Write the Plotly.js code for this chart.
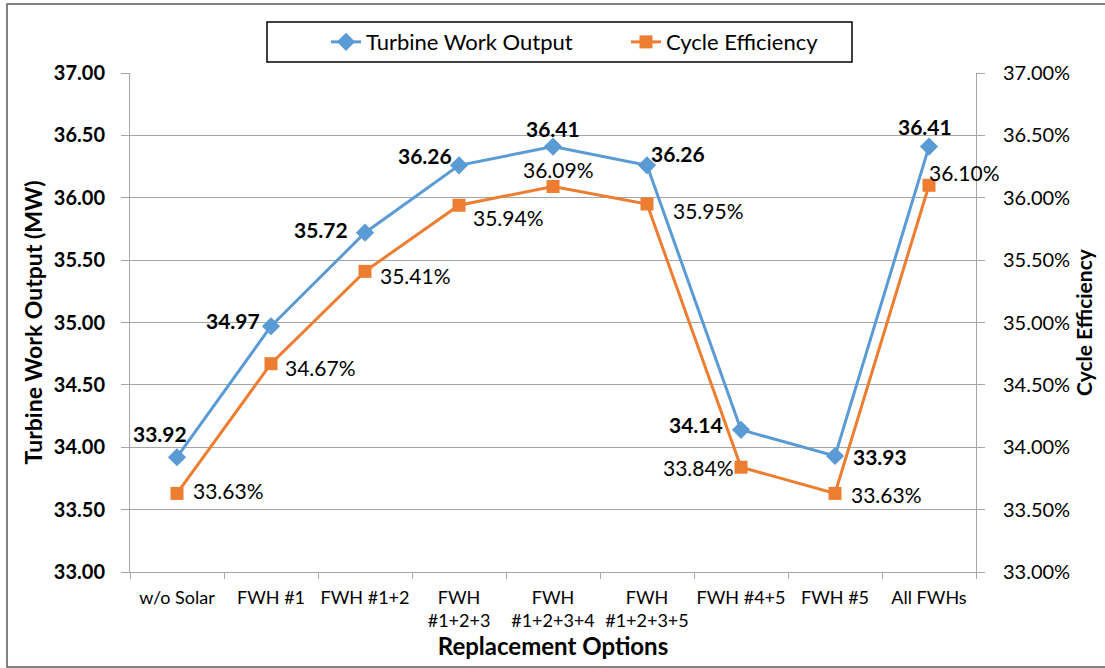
<!DOCTYPE html>
<html>
<head>
<meta charset="utf-8">
<script src="https://cdn.plot.ly/plotly-3.0.1.min.js"></script>
<style>
  html, body { margin: 0; padding: 0; background: #fff; }
  #chart { width: 1105px; height: 668px; }
</style>
</head>
<body>
<div id="chart"></div>
<script>
let options = ['w/o Solar', 'FWH #1', 'FWH #1+2', 'FWH<br>#1+2+3', 'FWH<br>#1+2+3+4',
  'FWH<br>#1+2+3+5', 'FWH #4+5', 'FWH #5', 'All FWHs'];
let workOutput = [33.92, 34.97, 35.72, 36.26, 36.41, 36.26, 34.14, 33.93, 36.41];
let efficiency = [33.63, 34.67, 35.41, 35.94, 36.09, 35.95, 33.84, 33.63, 36.10];

// label offsets in px (right, down) from each marker
let workDx = [-17, -38, -44, -34, 0, 31, -45, 45, -4];
let workDy = [-24, -6, -3, -10, -18, -12, -5, 1, -20];
let effDx = [51, 49, 50, 49, 5, 61, -43, 51, 35];
let effDy = [-3, 4, 4, 12, -17, 7, 0, 1, -13];

let blue = '#5B9BD5';
let orange = '#ED7D31';
let font = 'Lato, "Open Sans", sans-serif';

let work = {
  x: options,
  y: workOutput,
  name: 'Turbine Work Output',
  type: 'scatter',
  mode: 'lines+markers',
  line: { color: blue, width: 3 },
  marker: { symbol: 'diamond', size: 14, color: blue }
};

let eff = {
  x: options,
  y: efficiency.map(v => v / 100),
  name: 'Cycle Efficiency',
  type: 'scatter',
  mode: 'lines+markers',
  yaxis: 'y2',
  line: { color: orange, width: 3 },
  marker: { symbol: 'square', size: 13, color: orange }
};

let labels = [];
options.forEach((c, i) => {
  labels.push({
    x: c, y: workOutput[i], xref: 'x', yref: 'y',
    text: workOutput[i].toFixed(2), showarrow: false,
    xshift: workDx[i], yshift: -workDy[i],
    font: { family: font, size: 21, weight: 'bold', color: '#000' }
  });
  labels.push({
    x: c, y: efficiency[i] / 100, xref: 'x', yref: 'y2',
    text: efficiency[i].toFixed(2) + '%', showarrow: false,
    xshift: effDx[i], yshift: -effDy[i],
    font: { family: font, size: 21, color: '#000' }
  });
});

let grid = '#a6a6a6';

let layout = {
  width: 1105,
  height: 668,
  margin: { l: 130, r: 129, t: 73, b: 96 },
  paper_bgcolor: '#fff',
  plot_bgcolor: '#fff',
  font: { family: font, color: '#000' },
  showlegend: true,
  legend: {
    orientation: 'h',
    x: (326 - 130) / 846, xanchor: 'left',
    y: 1.062, yanchor: 'middle',
    borderwidth: 0,
    bgcolor: 'rgba(0,0,0,0)',
    font: { family: font, size: 22 },
    entrywidth: 255
  },
  xaxis: {
    type: 'category',
    range: [-0.5, 8.5],
    showline: true, linecolor: grid, linewidth: 1,
    ticks: 'outside', tickson: 'boundaries', ticklen: 6, tickcolor: grid,
    ticklabelstandoff: 9, tickangle: 0,
    tickfont: { family: font, size: 18 },
    showgrid: false,
    title: { text: 'Replacement Options', font: { family: font, size: 24, weight: 'bold' }, standoff: 4 }
  },
  yaxis: {
    range: [33, 37], dtick: 0.5, tickformat: '.2f',
    showline: true, linecolor: grid, linewidth: 1,
    ticks: 'outside', ticklen: 8, tickcolor: grid, ticklabelstandoff: 12,
    gridcolor: grid, gridwidth: 1, zeroline: false,
    tickfont: { family: font, size: 20, weight: 'bold' },
    title: { text: 'Turbine Work Output (MW)', font: { family: font, size: 23, weight: 'bold' }, standoff: 4 }
  },
  yaxis2: {
    overlaying: 'y', side: 'right',
    range: [0.33, 0.37], dtick: 0.005, tickformat: '.2%',
    showline: true, linecolor: grid, linewidth: 1,
    ticks: 'outside', ticklen: 8, tickcolor: grid, ticklabelstandoff: 14,
    showgrid: false, zeroline: false,
    tickfont: { family: font, size: 20 },
    title: { text: 'Cycle Efficiency', font: { family: font, size: 21, weight: 'bold' }, standoff: 8 }
  },
  annotations: labels,
  shapes: [{
    type: 'rect', xref: 'paper', yref: 'paper',
    x0: (7 - 130) / 846, x1: (1112 - 130) / 846,
    y0: (572 - 667) / 499, y1: (572 - 4) / 499,
    line: { color: '#595959', width: 1.5 }, layer: 'below'
  }, {
    type: 'rect', xref: 'paper', yref: 'paper',
    x0: (267 - 130) / 846, x1: (852 - 130) / 846,
    y0: (572 - 62) / 499, y1: (572 - 22) / 499,
    line: { color: '#000', width: 1.5 }, fillcolor: '#fff', layer: 'below'
  }]
};

Plotly.newPlot('chart', [work, eff], layout, { displayModeBar: false });
</script>
</body>
</html>
